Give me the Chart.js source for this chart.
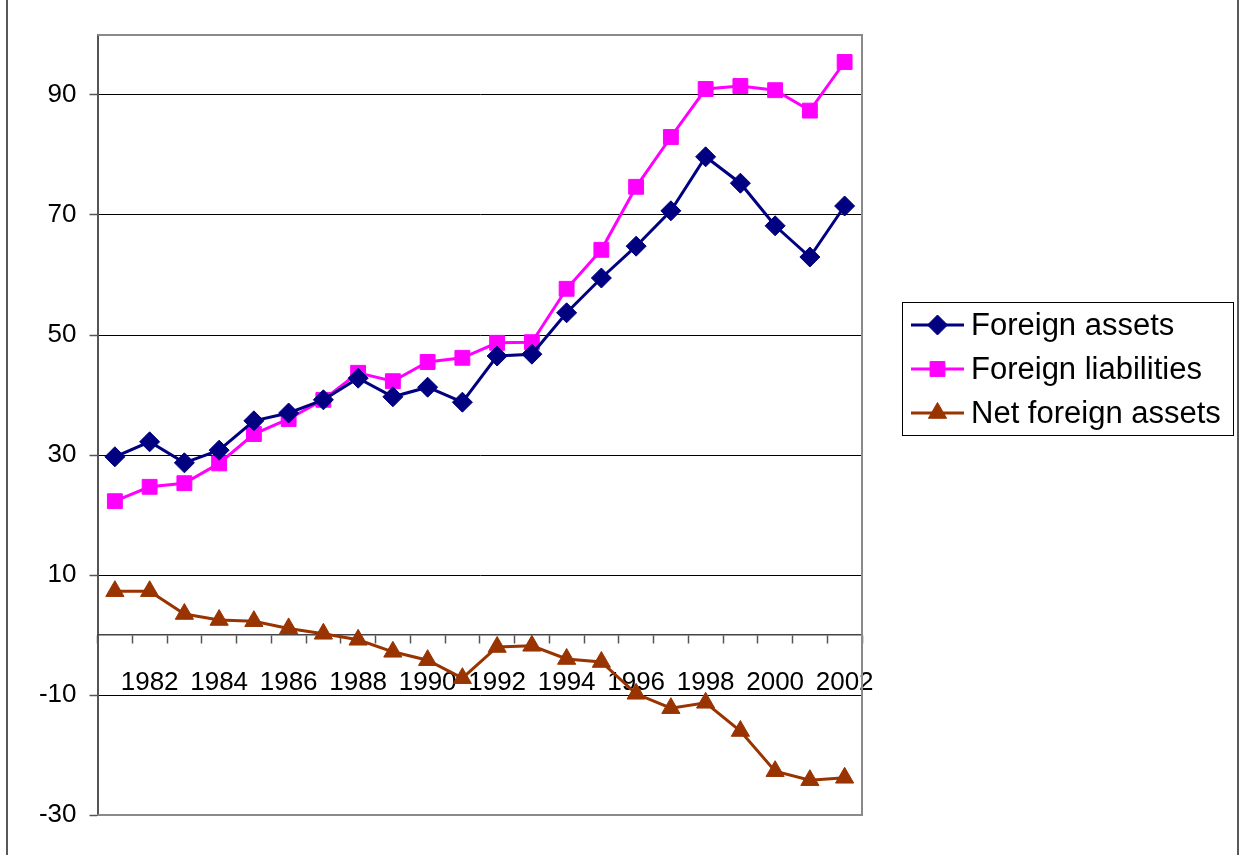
<!DOCTYPE html>
<html>
<head>
<meta charset="utf-8">
<script src="https://cdn.jsdelivr.net/npm/chart.js@4.4.1/dist/chart.umd.min.js"></script>
<style>
  html, body { margin: 0; padding: 0; background: #fff; }
  #wrap { position: relative; width: 1244px; height: 855px; }
</style>
</head>
<body>
<div id="wrap"><canvas id="c" width="1244" height="855"></canvas></div>
<script>
const years = ['1981','1982','1983','1984','1985','1986','1987','1988','1989','1990','1991','1992','1993','1994','1995','1996','1997','1998','1999','2000','2001','2002'];
const foreignAssets = [29.7, 32.2, 28.7, 30.8, 35.7, 37.0, 39.2, 42.8, 39.7, 41.3, 38.8, 46.5, 46.8, 53.7, 59.5, 64.8, 70.7, 79.7, 75.3, 68.2, 63.0, 71.5];
const foreignLiabilities = [22.3, 24.7, 25.3, 28.6, 33.5, 36.0, 39.2, 43.7, 42.3, 45.5, 46.2, 48.7, 48.8, 57.7, 64.2, 74.7, 83.0, 91.0, 91.5, 90.8, 87.4, 95.5];
const netForeignAssets = [7.3, 7.3, 3.5, 2.5, 2.3, 1.1, 0.2, -0.8, -2.8, -4.2, -7.2, -2.0, -1.8, -4.0, -4.5, -9.8, -12.2, -11.3, -16.0, -22.7, -24.2, -23.8];
const yTickValues = [-30, -10, 10, 30, 50, 70, 90];
const seriesNames = ['Foreign assets', 'Foreign liabilities', 'Net foreign assets'];

const FONT = "'Liberation Sans', Arial, sans-serif";

const framePlugin = {
  id: 'frame',
  beforeDraw(chart) {
    const ctx = chart.ctx;
    ctx.save();
    ctx.fillStyle = '#fff';
    ctx.fillRect(0, 0, chart.width, chart.height);
    ctx.restore();
  },
  afterDraw(chart) {
    const ctx = chart.ctx;
    const a = chart.chartArea;
    ctx.save();
    ctx.strokeStyle = '#8a8a8a';
    ctx.lineWidth = 2;
    ctx.beginPath();
    ctx.moveTo(a.left, a.top);
    ctx.lineTo(a.right, a.top);
    ctx.lineTo(a.right, a.bottom);
    ctx.lineTo(a.left, a.bottom);
    ctx.stroke();
    ctx.strokeStyle = '#222';
    ctx.lineWidth = 1.5;
    ctx.beginPath();
    ctx.moveTo(7, 0); ctx.lineTo(7, chart.height);
    ctx.moveTo(1238, 0); ctx.lineTo(1238, chart.height);
    ctx.stroke();

    const bx = 902.5, by = 302.5, bw = 331, bh = 133;
    ctx.fillStyle = '#fff';
    ctx.fillRect(bx, by, bw, bh);
    ctx.strokeStyle = '#000';
    ctx.lineWidth = 1;
    ctx.strokeRect(bx, by, bw, bh);
    const rows = [325, 369, 413];
    chart.data.datasets.forEach((ds, i) => {
      const y = rows[i];
      ctx.strokeStyle = ds.borderColor;
      ctx.lineWidth = ds.borderWidth;
      ctx.beginPath();
      ctx.moveTo(911, y);
      ctx.lineTo(964, y);
      ctx.stroke();
      ctx.fillStyle = ds.pointBackgroundColor;
      ctx.strokeStyle = ds.pointBorderColor;
      ctx.lineWidth = 1;
      Chart.helpers.drawPoint(ctx, {
        pointStyle: ds.pointStyle,
        radius: ds.pointRadius,
        rotation: 0,
        borderWidth: 1
      }, 937.5, y);
      ctx.fillStyle = '#000';
      ctx.font = '31px ' + FONT;
      ctx.textAlign = 'left';
      ctx.textBaseline = 'middle';
      ctx.fillText(ds.label, 971, y + 1);
    });
    ctx.restore();
  }
};

new Chart(document.getElementById('c'), {
  type: 'line',
  data: {
    labels: years,
    datasets: [
      {
        label: seriesNames[0], data: foreignAssets,
        borderColor: '#000080', backgroundColor: '#000080',
        pointBackgroundColor: '#000080', pointBorderColor: '#000080',
        pointStyle: 'rectRot', pointRadius: 10, pointBorderWidth: 1,
        borderWidth: 3, tension: 0
      },
      {
        label: seriesNames[1], data: foreignLiabilities,
        borderColor: '#ff00ff', backgroundColor: '#ff00ff',
        pointBackgroundColor: '#ff00ff', pointBorderColor: '#ff00ff',
        pointStyle: 'rect', pointRadius: 10.5, pointBorderWidth: 1,
        borderWidth: 3, tension: 0
      },
      {
        label: seriesNames[2], data: netForeignAssets,
        borderColor: '#993300', backgroundColor: '#993300',
        pointBackgroundColor: '#993300', pointBorderColor: '#993300',
        pointStyle: 'triangle', pointRadius: 10.5, pointBorderWidth: 1,
        borderWidth: 3, tension: 0
      }
    ]
  },
  options: {
    responsive: false,
    animation: false,
    devicePixelRatio: 1,
    layout: { padding: { left: 0, top: 35, right: 382, bottom: 40 } },
    plugins: {
      legend: { display: false },
      tooltip: { enabled: false },
      title: { display: false }
    },
    scales: {
      y: {
        type: 'linear',
        min: -30, max: 100,
        afterBuildTicks(scale) {
          scale.ticks = yTickValues.map(v => ({ value: v }));
        },
        afterFit(scale) { scale.width = 97.5; },
        grid: {
          color: '#000', lineWidth: 1, drawTicks: true, tickLength: 8,
          tickColor: '#555', tickWidth: 1.5
        },
        border: { display: true, color: '#555', width: 2 },
        ticks: {
          color: '#000', font: { family: FONT, size: 26 }, padding: 13,
          callback: (v) => String(v)
        }
      },
      x: {
        type: 'category',
        position: { y: 0 },
        offset: true,
        grid: {
          display: true, drawOnChartArea: false, drawTicks: true,
          tickLength: 8, offset: true, tickColor: '#555', tickWidth: 1.5
        },
        border: { display: true, color: '#444', width: 1.5 },
        ticks: {
          autoSkip: false, maxRotation: 0, minRotation: 0,
          color: '#000', font: { family: FONT, size: 26 }, padding: 24,
          callback: function (val, idx) {
            const lbl = this.getLabelForValue(val);
            return (parseInt(lbl, 10) % 2 === 0) ? lbl : '';
          }
        }
      }
    }
  },
  plugins: [framePlugin]
});
</script>
</body>
</html>
